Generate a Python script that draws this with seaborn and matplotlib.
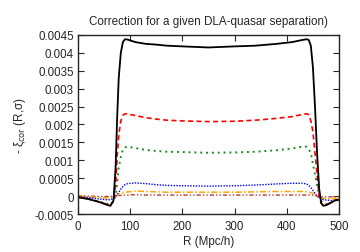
import numpy as np
import pandas as pd
import matplotlib
matplotlib.use('Agg')
import matplotlib.pyplot as plt
import seaborn as sns

# separation R (Mpc/h)
r = [0, 20, 40, 55, 62, 68, 72, 75, 78, 82, 86, 90, 95, 110, 130, 150, 170, 200, 250,
     300, 340, 380, 410, 430, 438, 442, 446, 450, 454, 458, 462, 466, 470, 476, 485, 492, 500]

black = [-0.00003, -0.00008, -0.00016, -0.00024, -0.00027, -0.00012, 0.0008, 0.0022, 0.0033, 0.0040,
         0.00430, 0.00438, 0.00437, 0.00430, 0.00425, 0.00423, 0.00420, 0.00418, 0.00415,
         0.00418, 0.00420, 0.00425, 0.00430, 0.00436, 0.00438, 0.00436, 0.0042, 0.0036, 0.0025,
         0.0012, 0.0002, -0.0002, -0.00027, -0.00025, -0.00018, -0.00012, -0.00010]
red = [-0.00003, -0.00008, -0.00016, -0.00023, -0.00026, -0.00014, 0.0003, 0.0011, 0.0017, 0.0021,
       0.00226, 0.00230, 0.00229, 0.00225, 0.00219, 0.00215, 0.00212, 0.00210, 0.00208,
       0.00209, 0.00212, 0.00217, 0.00222, 0.00228, 0.00230, 0.00227, 0.0021, 0.0018, 0.0012,
       0.0006, 0.0000, -0.0002, -0.00026, -0.00024, -0.00017, -0.00012, -0.00010]
green = [-0.00003, -0.00008, -0.00015, -0.00021, -0.00023, -0.00015, -0.0000, 0.0004, 0.0008, 0.0011,
         0.00130, 0.00136, 0.00138, 0.00134, 0.00129, 0.00126, 0.00124, 0.00123, 0.00121,
         0.00122, 0.00124, 0.00128, 0.00133, 0.00138, 0.00138, 0.00132, 0.0012, 0.0009, 0.0006,
         0.0003, 0.0000, -0.00015, -0.00021, -0.00022, -0.00017, -0.00012, -0.00010]
blue = [-0.00002, -0.00004, -0.00008, -0.00010, -0.00010, -0.00006, 0.0, 0.00005, 0.00010, 0.00020,
        0.00027, 0.00032, 0.00035, 0.00037, 0.00035, 0.00032, 0.00030, 0.00029, 0.00028,
        0.00029, 0.00031, 0.00034, 0.00036, 0.00036, 0.00034, 0.00030, 0.00024, 0.00016, 0.00008,
        0.0, -0.00005, -0.00008, -0.00010, -0.00011, -0.00012, -0.00012, -0.00012]
orange = [0.0, -0.00002, -0.00004, -0.00005, -0.00005, -0.00003, 0.0, 0.00002, 0.00004, 0.00007,
          0.00009, 0.00010, 0.00012, 0.00014, 0.00013, 0.00012, 0.00011, 0.00011, 0.00011,
          0.00011, 0.00012, 0.00013, 0.00013, 0.00013, 0.00012, 0.00011, 0.00010, 0.00007, 0.00004,
          0.0, -0.00003, -0.00005, -0.00006, -0.00007, -0.00007, -0.00007, -0.00007]
brown = [0.00001, 0.0, -0.00001, -0.00001, -0.00001, 0.0, 0.00001, 0.00001, 0.00002, 0.00002,
         0.00003, 0.00003, 0.00003, 0.00004, 0.00003, 0.00003, 0.00003, 0.00003, 0.00003,
         0.00003, 0.00003, 0.00003, 0.00003, 0.00003, 0.00003, 0.00003, 0.00003, 0.00002, 0.00001,
         0.0, -0.00001, -0.00002, -0.00002, -0.00002, -0.00002, -0.00002, -0.00002]

series = [
    (black, 'black', '-', 1.3),
    (red, '#ff0000', (0, (3, 2)), 1.2),
    (green, '#1f8a1f', (0, (1, 2)), 1.4),
    (blue, '#0000ff', (0, (1, 1)), 1.0),
    (orange, '#ffa500', (0, (4, 1.5, 1, 1.5)), 1.1),
    (brown, '#b03a3a', (0, (3, 1.5, 1, 1.5, 1, 1.5)), 1.0),
]

sns.set_style('ticks')
plt.rcParams['font.family'] = ['Liberation Sans', 'DejaVu Sans']
plt.rcParams['xtick.direction'] = 'in'
plt.rcParams['ytick.direction'] = 'in'

fig = plt.figure(figsize=(3.6, 2.53), dpi=100)
ax = fig.add_axes([0.2167, 0.150, 0.725, 0.708])

for vals, col, ls, lw in series[::-1]:
    df = pd.DataFrame({'R': r, 'xi': vals})
    sns.lineplot(data=df, x='R', y='xi', ax=ax, color=col, linestyle=ls, linewidth=lw,
                 estimator=None, sort=False)

ax.set_xlim(0, 500)
ax.set_ylim(-0.0005, 0.0045)
ax.set_xticks(np.arange(0, 501, 100))
ax.set_yticks(np.arange(-0.0005, 0.00451, 0.0005))
ax.set_yticklabels(['-0.0005', '0', '0.0005', '0.001', '0.0015', '0.002', '0.0025',
                    '0.003', '0.0035', '0.004', '0.0045'])
ax.tick_params(axis='both', labelsize=8.3, length=4, width=0.8, top=True, right=True)
ax.tick_params(axis='x', pad=4.5)
ax.tick_params(axis='y', pad=3)
for s in ax.spines.values():
    s.set_linewidth(1.0)

ax.set_title('Correction for a given DLA-quasar separation)', fontsize=8.4, pad=8)
ax.set_xlabel('R (Mpc/h)', fontsize=8.4, labelpad=2)
ax.set_ylabel(r'- ξ$_{\mathrm{cor}}$ (R,σ)', fontsize=8.4, labelpad=5)

fig.savefig('out.png', dpi=100)
